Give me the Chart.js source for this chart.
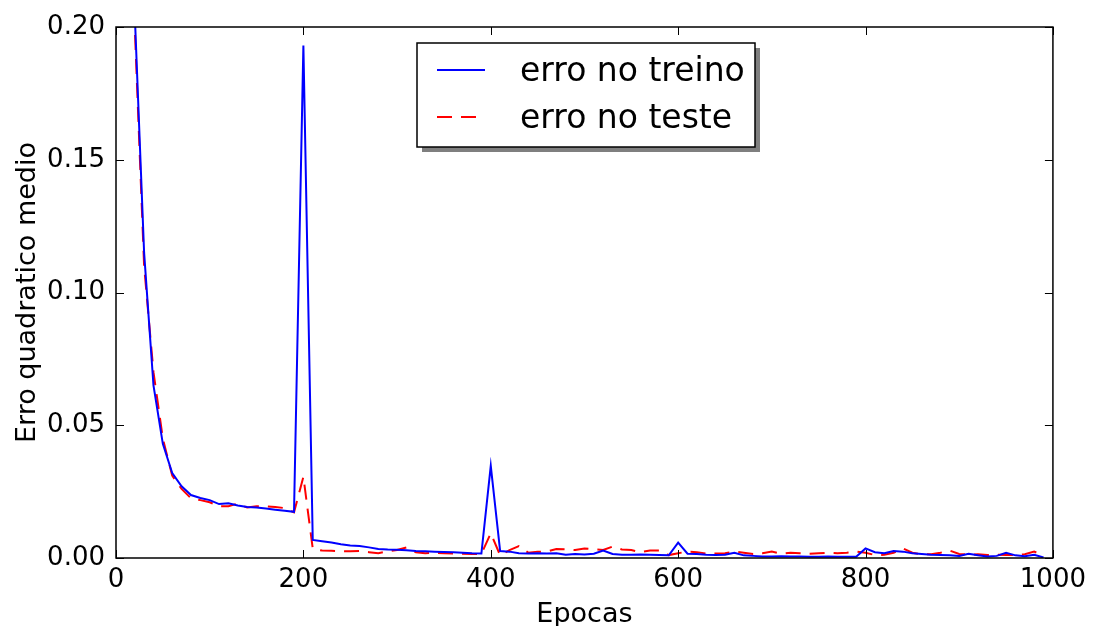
<!DOCTYPE html>
<html>
<head>
<meta charset="utf-8">
<script src="https://cdn.jsdelivr.net/npm/chart.js@4"></script>
<style>
  html, body { margin: 0; padding: 0; background: #fff; }
  #wrap { width: 1093px; height: 626px; }
</style>
</head>
<body>
<div id="wrap"><canvas id="c" width="1093" height="626"></canvas></div>
<script>
// epocas (amostradas de 10 em 10)
const epocas = [
  0, 10, 20, 30, 40, 50, 60, 70, 80, 90,
  100, 110, 120, 130, 140, 150, 160, 170, 180, 190,
  200, 210, 220, 230, 240, 250, 260, 270, 280, 290,
  300, 310, 320, 330, 340, 350, 360, 370, 380, 390,
  400, 410, 420, 430, 440, 450, 460, 470, 480, 490,
  500, 510, 520, 530, 540, 550, 560, 570, 580, 590,
  600, 610, 620, 630, 640, 650, 660, 670, 680, 690,
  700, 710, 720, 730, 740, 750, 760, 770, 780, 790,
  800, 810, 820, 830, 840, 850, 860, 870, 880, 890,
  900, 910, 920, 930, 940, 950, 960, 970, 980, 990
];

const erroTreino = [
  0.45, 0.30, 0.205, 0.115, 0.065, 0.043, 0.032, 0.027, 0.0237, 0.0226,
  0.0218, 0.0203, 0.0206, 0.0198, 0.0192, 0.0190, 0.0186, 0.0182, 0.0178, 0.0174,
  0.193, 0.0068, 0.0063, 0.0058, 0.0052, 0.0047, 0.0045, 0.0040, 0.0034, 0.0032,
  0.0031, 0.0029, 0.0026, 0.0025, 0.0024, 0.0023, 0.0022, 0.0020, 0.0018, 0.0017,
  0.0347, 0.0026, 0.0024, 0.0018, 0.0017, 0.0018, 0.0017, 0.0018, 0.0012, 0.0015,
  0.0013, 0.0016, 0.0028, 0.0015, 0.0012, 0.0012, 0.0013, 0.0012, 0.0011, 0.0010,
  0.0058, 0.0016, 0.0015, 0.0012, 0.0011, 0.0012, 0.0020, 0.0010, 0.0008, 0.0006,
  0.0006, 0.0007, 0.0006, 0.0006, 0.0005, 0.0005, 0.0006, 0.0005, 0.0005, 0.0005,
  0.0036, 0.0022, 0.0018, 0.0026, 0.0024, 0.0018, 0.0015, 0.0012, 0.0011, 0.0010,
  0.0008, 0.0016, 0.0010, 0.0006, 0.0008, 0.0020, 0.0010, 0.0007, 0.0012, 0.0002
];

const erroTeste = [
  0.45, 0.30, 0.20, 0.11, 0.07, 0.045, 0.031, 0.026, 0.0225, 0.0218,
  0.021, 0.0195, 0.0195, 0.0205, 0.019, 0.0195, 0.0195, 0.0192, 0.0188, 0.0172,
  0.0306, 0.0035, 0.0028, 0.0027, 0.0026, 0.0025, 0.0026, 0.0022, 0.0018, 0.0025,
  0.0030, 0.0040, 0.0022, 0.0018, 0.0020, 0.0018, 0.0017, 0.0016, 0.0015, 0.0016,
  0.0093, 0.0010, 0.0030, 0.0045, 0.0020, 0.0024, 0.0024, 0.0034, 0.0033, 0.0030,
  0.0036, 0.0033, 0.0030, 0.0043, 0.0032, 0.0030, 0.0022, 0.0028, 0.0028, 0.0011,
  0.0018, 0.0024, 0.0022, 0.0017, 0.0017, 0.0018, 0.0024, 0.0020, 0.0015, 0.0018,
  0.0024, 0.0016, 0.0020, 0.0018, 0.0016, 0.0018, 0.0020, 0.0018, 0.0020, 0.0024,
  0.0020, 0.0011, 0.0012, 0.0020, 0.0036, 0.0020, 0.0014, 0.0014, 0.0020, 0.0028,
  0.0015, 0.0013, 0.0014, 0.0011, 0.0012, 0.0011, 0.0011, 0.0014, 0.0024, 0.0010
];

const xTicks = [0, 200, 400, 600, 800, 1000];
const yTicks = [0, 0.05, 0.10, 0.15, 0.20];
const legendLabels = ['erro no treino', 'erro no teste'];
const xTitle = 'Epocas';
const yTitle = 'Erro quadratico medio';

const FONT = "'DejaVu Sans', sans-serif";

// moldura + ticks para dentro (estilo matplotlib classico), nos 4 lados
const frameTicks = {
  id: 'frameTicks',
  afterDatasetsDraw(chart) {
    const { ctx, chartArea: a, scales } = chart;
    const len = 8;
    ctx.save();
    ctx.strokeStyle = '#000';
    ctx.lineWidth = 1;
    ctx.beginPath();
    xTicks.forEach(v => {
      const x = Math.round(scales.x.getPixelForValue(v)) + 0.5;
      ctx.moveTo(x, a.bottom); ctx.lineTo(x, a.bottom - len);
      ctx.moveTo(x, a.top); ctx.lineTo(x, a.top + len);
    });
    yTicks.forEach(v => {
      const y = Math.round(scales.y.getPixelForValue(v)) + 0.5;
      ctx.moveTo(a.left, y); ctx.lineTo(a.left + len, y);
      ctx.moveTo(a.right, y); ctx.lineTo(a.right - len, y);
    });
    ctx.stroke();
    ctx.lineWidth = 1.5;
    ctx.strokeRect(a.left, a.top, a.right - a.left, a.bottom - a.top);

    // titulos dos eixos
    ctx.fillStyle = '#000';
    ctx.font = '27px ' + FONT;
    ctx.textAlign = 'center';
    ctx.textBaseline = 'alphabetic';
    ctx.fillText(xTitle, (a.left + a.right) / 2, 622);
    ctx.translate(35, (a.top + a.bottom) / 2);
    ctx.rotate(-Math.PI / 2);
    ctx.fillText(yTitle, 0, 0);
    ctx.restore();
  }
};

// legenda com sombra, como no matplotlib
const boxLegend = {
  id: 'boxLegend',
  afterDraw(chart) {
    const { ctx } = chart;
    const bx = 417, by = 43, bw = 338, bh = 104;
    ctx.save();
    ctx.fillStyle = '#7f7f7f';
    ctx.fillRect(bx + 5, by + 5, bw, bh);
    ctx.fillStyle = '#fff';
    ctx.fillRect(bx, by, bw, bh);
    ctx.strokeStyle = '#000';
    ctx.lineWidth = 1.5;
    ctx.strokeRect(bx, by, bw, bh);
    chart.data.datasets.forEach((ds, i) => {
      const y = by + 27 + i * 47;
      ctx.strokeStyle = ds.borderColor;
      ctx.lineWidth = ds.borderWidth;
      ctx.setLineDash(ds.borderDash || []);
      ctx.beginPath();
      ctx.moveTo(bx + 20, y);
      ctx.lineTo(bx + 68, y);
      ctx.stroke();
      ctx.setLineDash([]);
      ctx.fillStyle = '#000';
      ctx.font = '33px ' + FONT;
      ctx.textBaseline = 'alphabetic';
      ctx.fillText(ds.label, bx + 103, y + 11);
    });
    ctx.restore();
  }
};

new Chart(document.getElementById('c'), {
  type: 'line',
  data: {
    datasets: [
      {
        label: legendLabels[0],
        data: epocas.map((e, i) => ({ x: e, y: erroTreino[i] })),
        borderColor: '#0000ff',
        borderWidth: 2,
        pointRadius: 0,
        tension: 0
      },
      {
        label: legendLabels[1],
        data: epocas.map((e, i) => ({ x: e, y: erroTeste[i] })),
        borderColor: '#ff0000',
        borderWidth: 2,
        borderDash: [15, 9],
        pointRadius: 0,
        tension: 0
      }
    ]
  },
  options: {
    responsive: false,
    animation: false,
    layout: { padding: { top: 27, right: 39, left: 0, bottom: 0 } },
    plugins: { legend: { display: false }, tooltip: { enabled: false } },
    scales: {
      x: {
        type: 'linear',
        min: 0, max: 1000,
        afterBuildTicks: s => { s.ticks = xTicks.map(v => ({ value: v })); },
        afterFit: s => { s.height = 68; },
        grid: { display: false, drawTicks: false },
        border: { display: false },
        ticks: { color: '#000', padding: 7, maxRotation: 0, font: { family: FONT, size: 26 }, callback: v => String(v) }
      },
      y: {
        min: 0, max: 0.2,
        afterBuildTicks: s => { s.ticks = yTicks.map(v => ({ value: v })); },
        afterFit: s => { s.width = 116; },
        grid: { display: false, drawTicks: false },
        border: { display: false },
        ticks: { color: '#000', padding: 11, font: { family: FONT, size: 26 }, callback: v => v.toFixed(2) }
      }
    }
  },
  plugins: [frameTicks, boxLegend]
});
</script>
</body>
</html>
